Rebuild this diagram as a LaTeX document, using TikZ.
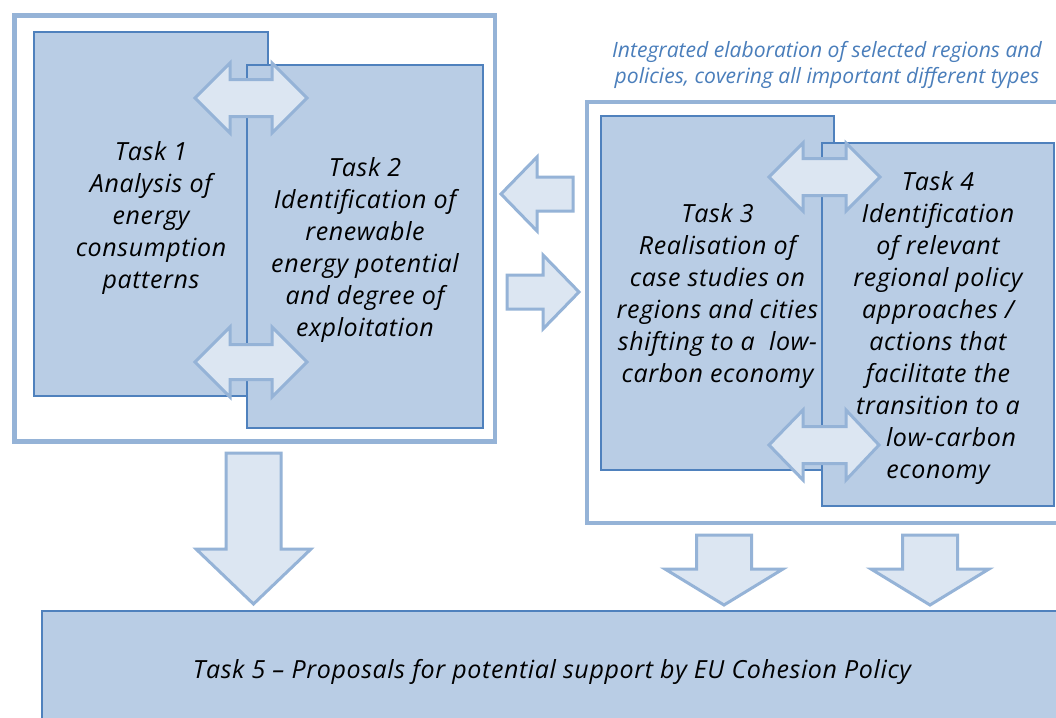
\documentclass[tikz,border=0pt]{standalone}
\usepackage{fontspec}
\setmainfont{Open Sans}
\newfontfamily\taskfamily{Open Sans}[LetterSpace=2.5]
\definecolor{frameblue}{HTML}{95B3D7}
\definecolor{boxfill}{HTML}{B9CDE5}
\definecolor{boxline}{HTML}{4F81BD}
\definecolor{arrfill}{HTML}{DCE6F2}
\definecolor{captxt}{HTML}{4A7EBB}
\newcommand\tasktext{\taskfamily\fontsize{25}{32}\selectfont\itshape}
\newcommand\captext{\fontsize{21.1}{26}\selectfont\itshape}
\newcommand\firstline{\rule{0pt}{26pt}}
\newcommand\harrowtwo[7]{%
  \draw[blockarrow] (#1,#5) -- (#2,{#5-#6}) -- (#2,{#5-#7}) -- (#3,{#5-#7}) -- (#3,{#5-#6}) -- (#4,#5)
    -- (#3,{#5+#6}) -- (#3,{#5+#7}) -- (#2,{#5+#7}) -- (#2,{#5+#6}) -- cycle;}
\newcommand\harrowone[6]{%
  \draw[blockarrow] (#1,#4) -- (#2,{#4-#5}) -- (#2,{#4-#6}) -- (#3,{#4-#6}) -- (#3,{#4+#6})
    -- (#2,{#4+#6}) -- (#2,{#4+#5}) -- cycle;}
\newcommand\varrowone[6]{%
  \draw[blockarrow] (#1,#2) -- ({#1-#5},#3) -- ({#1-#6},#3) -- ({#1-#6},#4) -- ({#1+#6},#4)
    -- ({#1+#6},#3) -- ({#1+#5},#3) -- cycle;}
\begin{document}
\begin{tikzpicture}[x=1pt,y=-1pt,
  frame/.style={draw=frameblue, line width=4.5pt, fill=white, inner sep=0pt},
  taskbox/.style={draw=boxline, fill=boxfill, line width=1.5pt, inner sep=0pt, align=center, font=\tasktext},
  blockarrow/.style={draw=frameblue, fill=arrfill, line width=3pt, line join=miter},
  plaintext/.style={inner sep=0pt, font=\tasktext}]
\useasboundingbox (0,0) rectangle (1056,717);
\clip (0,0) rectangle (1056,717);
\fill[white] (0,0) rectangle (1056,717);

% frames
\node[frame, minimum width=480.5pt, minimum height=426pt] (lf) at (254.75,228.5) {};
\node[frame, minimum width=488pt, minimum height=421pt] (rf) at (831,312.5) {};

% caption
\node[inner sep=0pt, font=\captext, text=captxt, align=center, anchor=north] (cap) at (827,41)
  {Integrated elaboration of selected regions and\\policies, covering all important different types};

% task boxes
\node[taskbox, minimum width=234pt, minimum height=364pt] (t1) at (151,214)
  {\firstline Task 1\\Analysis of\\energy\\consumption\\patterns};
\node[taskbox, minimum width=236pt, minimum height=363pt] (t2) at (365,246.5)
  {\firstline Task 2\\Identification of\\renewable\\energy potential\\and degree of\\exploitation};
\node[taskbox, minimum width=233pt, minimum height=354pt] (t3) at (717.5,293)
  {\firstline Task 3\\Realisation of\\case studies on\\regions and cities\\shifting to a\ \ low-\\carbon economy};
\node[taskbox, minimum width=232pt, minimum height=363pt] (t4) at (938,324.5)
  {\firstline Task 4\\Identification\\of relevant\\regional policy\\approaches /\\actions that\\facilitate the\\transition to a\\\hspace*{26pt}low-carbon\\economy};
\node[taskbox, minimum width=1030pt, minimum height=130pt] (t5) at (557,676) {};
\node[plaintext, anchor=base] (t5txt) at (552,678)
  {Task 5 – Proposals for potential support by EU Cohesion Policy};

% double arrows between task pairs
\harrowtwo{195}{230}{272}{307}{98}{35}{18.5}
\harrowtwo{195}{230}{272}{307}{362}{35}{17.5}
\harrowtwo{769}{803}{846}{880}{177}{34}{18.5}
\harrowtwo{769}{803}{846}{879}{445}{35}{18.5}

% arrows between the two frames
\harrowone{501}{537}{573}{194}{37}{17}
\harrowone{579}{543}{507}{292}{37}{17}

% down arrows to task 5
\varrowone{253.5}{604}{549}{453}{57.5}{27.5}
\varrowone{724}{605}{569}{535}{59}{27.5}
\varrowone{930}{605}{569}{535}{59}{27.5}
\end{tikzpicture}
\end{document}
